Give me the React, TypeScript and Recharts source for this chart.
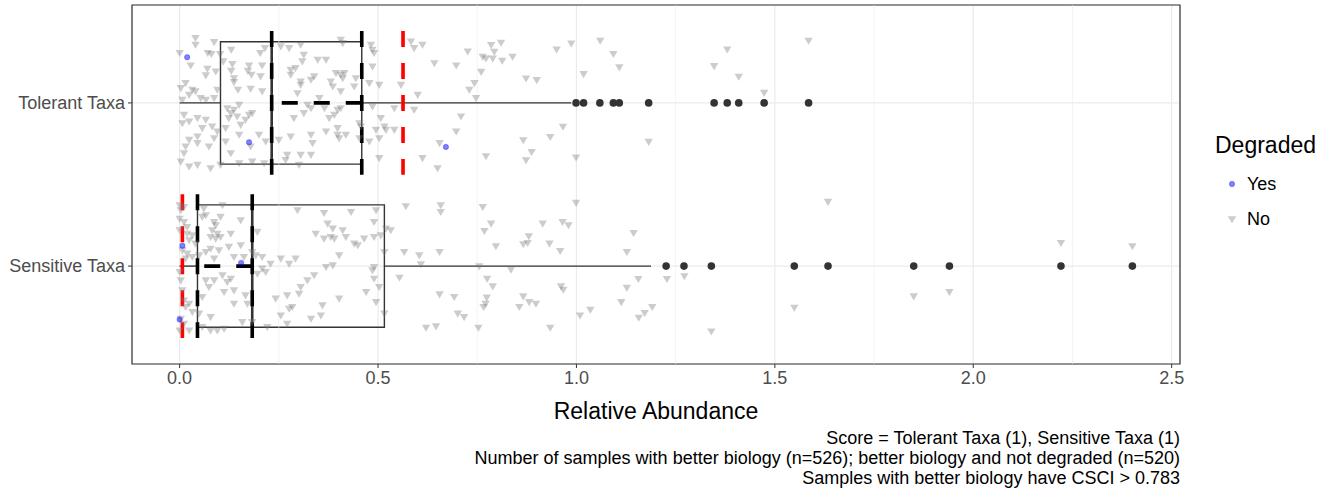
import React from 'react';
import { ScatterChart, Scatter, XAxis, YAxis, CartesianGrid, ReferenceLine, ReferenceArea } from 'recharts';

const categories = ['Sensitive Taxa', 'Tolerant Taxa'];
const xTicks = [0, 0.5, 1, 1.5, 2, 2.5];
const xMinor = [0.25, 0.75, 1.25, 1.75, 2.25];
const xDomain = [-0.12, 2.521];
const yDomain = [0.4, 2.6];

// [lower whisker, q1, median, q3, upper whisker]
const sensitiveBox = [0, 0.045, 0.183, 0.516, 1.188];
const tolerantBox = [0, 0.103, 0.232, 0.459, 0.987];
const sensitiveOutliers = [1.226, 1.271, 1.34, 1.549, 1.634, 1.85, 1.94, 2.221, 2.401];
const tolerantOutliers = [0.999, 1.018, 1.059, 1.093, 1.108, 1.182, 1.347, 1.38, 1.409, 1.473, 1.585];

// dashed black markers (pairs) and red thresholds
const sensitiveMarks = [0.045, 0.183];
const tolerantMarks = [0.232, 0.459];
const sensitiveThreshold = 0.007;
const tolerantThreshold = 0.563;

// [value, vertical jitter]
const sensitiveYes = [[0.007, 0.125], [0.0, -0.327], [0.155, 0.02]];
const tolerantYes = [[0.019, 0.28], [0.175, -0.241], [0.671, -0.27]];

const tolerantNo = [
  [0.04, 0.399], [0.04, 0.358], [0.087, 0.374], [0.0, 0.307], [0.028, 0.231], [0.071, 0.307], [0.08, 0.301], [0.102, 0.301],
  [0.13, 0.327], [0.11, 0.256], [0.133, 0.239], [0.07, 0.211], [0.066, 0.17], [0.091, 0.194], [0.13, 0.198], [0.137, 0.153],
  [0.137, 0.129], [0.147, 0.082], [0.175, 0.231], [0.172, 0.198], [0.181, 0.174], [0.179, 0.088], [0.208, 0.231], [0.203, 0.307],
  [0.215, 0.337], [0.208, 0.072], [0.204, 0.164], [0.003, 0.092], [0.015, 0.123], [0.032, 0.082], [0.04, 0.072], [0.024, 0.051],
  [0.053, 0.031], [0.066, 0.02], [0.087, 0.031], [0.095, 0.082], [0.007, 0.02], [0.011, -0.072], [0.007, -0.123], [0.024, -0.112],
  [0.045, -0.092], [0.066, -0.102], [0.082, -0.143], [0.057, -0.153], [0.045, -0.204], [0.045, -0.245], [0.024, -0.225], [0.015, -0.266],
  [0.011, -0.307], [0.003, -0.358], [0.024, -0.389], [0.045, -0.378], [0.078, -0.399], [0.103, -0.378], [0.074, -0.266], [0.087, -0.215],
  [0.095, -0.174], [0.12, -0.031], [0.129, -0.061], [0.124, -0.092], [0.137, -0.041], [0.15, -0.01], [0.145, -0.082], [0.154, -0.133],
  [0.116, -0.153], [0.129, -0.307], [0.116, -0.235], [0.15, -0.194], [0.175, -0.072], [0.183, -0.061], [0.166, -0.102], [0.2, -0.194],
  [0.179, -0.266], [0.15, -0.368], [0.183, -0.358], [0.213, -0.368], [0.217, -0.235], [0.25, -0.225], [0.28, -0.204], [0.271, -0.317],
  [0.267, -0.348], [0.305, -0.317], [0.301, -0.378], [0.288, -0.092], [0.313, -0.061], [0.322, -0.01], [0.297, 0.061], [0.305, 0.112],
  [0.28, 0.204], [0.292, 0.215], [0.309, 0.256], [0.276, 0.337], [0.305, 0.358], [0.255, 0.348], [0.305, 0.133], [0.313, 0.297],
  [0.28, 0.174],
  [0.406, 0.389], [0.411, 0.368], [0.482, 0.358], [0.486, 0.327], [0.49, 0.307], [0.583, 0.378], [0.591, 0.337], [0.612, 0.358],
  [0.726, 0.317], [0.348, 0.266], [0.369, 0.266], [0.486, 0.225], [0.642, 0.245], [0.697, 0.231], [0.331, 0.143], [0.339, 0.164],
  [0.381, 0.133], [0.394, 0.184], [0.406, 0.174], [0.411, 0.153], [0.415, 0.184], [0.444, 0.153], [0.386, 0.102], [0.406, 0.072],
  [0.44, 0.102], [0.478, 0.123], [0.503, 0.112], [0.558, 0.112], [0.6, 0.051], [0.73, 0.082], [0.747, 0.031], [0.743, 0.123],
  [0.331, -0.031], [0.352, 0.031], [0.365, -0.031], [0.398, -0.041], [0.406, -0.031], [0.486, -0.02], [0.541, -0.031], [0.591, -0.041],
  [0.507, -0.092], [0.709, -0.082], [0.377, -0.092], [0.39, -0.072], [0.369, -0.174], [0.398, -0.153], [0.398, -0.194], [0.402, -0.215],
  [0.419, -0.194], [0.331, -0.194], [0.335, -0.245], [0.453, -0.123], [0.457, -0.143], [0.453, -0.215], [0.478, -0.235], [0.495, -0.164],
  [0.516, -0.143], [0.52, -0.164], [0.541, -0.164], [0.503, -0.215], [0.697, -0.174], [0.655, -0.245], [0.331, -0.317], [0.503, -0.337],
  [0.612, -0.337], [0.65, -0.399],
  [0.764, 0.284], [0.772, 0.274], [0.785, 0.356], [0.793, 0.315], [0.789, 0.274], [0.81, 0.37], [0.813, 0.26], [0.839, 0.284],
  [0.76, 0.192], [0.873, 0.151], [0.9, 0.141], [0.95, 0.329], [0.987, 0.366], [1.06, 0.382], [1.093, 0.301], [1.108, 0.219],
  [1.018, 0.178], [1.347, 0.227], [1.38, 0.329], [1.409, 0.162], [1.473, 0.063], [1.585, 0.382], [0.866, -0.227], [0.887, -0.299],
  [0.873, -0.35], [0.772, -0.325], [0.934, -0.207], [0.966, -0.145], [0.999, -0.333], [1.182, -0.237],
];

const sensitiveNo = [
  [0.0, 0.374], [0.003, 0.344], [0.011, 0.364], [0.0, 0.292], [0.011, 0.272], [0.019, 0.241], [0.0, 0.221], [0.019, 0.2],
  [0.032, 0.19], [0.024, 0.16], [0.04, 0.139], [0.007, 0.098], [0.019, 0.078], [0.032, 0.057], [0.015, 0.047], [0.049, 0.067],
  [0.061, 0.354], [0.057, 0.303], [0.066, 0.313], [0.108, 0.374], [0.103, 0.303], [0.087, 0.272], [0.091, 0.252], [0.082, 0.221],
  [0.095, 0.2], [0.078, 0.18], [0.091, 0.17], [0.103, 0.18], [0.129, 0.2], [0.078, 0.108], [0.099, 0.098], [0.124, 0.119],
  [0.154, 0.129], [0.066, 0.088], [0.087, 0.047], [0.137, 0.057], [0.162, 0.057], [0.192, 0.067], [0.196, 0.211], [0.154, 0.282],
  [0.183, 0.088], [0.208, 0.057], [0.208, -0.014], [0.217, -0.035], [0.196, -0.045], [0.229, 0.016], [0.255, 0.047], [0.276, 0.016],
  [0.292, 0.047], [0.297, 0.344], [0.0, -0.035], [0.003, -0.086], [0.007, -0.147], [0.011, -0.209], [0.024, -0.229], [0.015, -0.249],
  [0.032, -0.28], [0.003, -0.321], [0.011, -0.352], [0.024, -0.393], [0.0, -0.393], [0.049, -0.29], [0.057, -0.188], [0.074, -0.127],
  [0.066, -0.086], [0.087, -0.086], [0.108, -0.055], [0.129, -0.076], [0.12, -0.096], [0.137, -0.147], [0.112, -0.157], [0.166, -0.178],
  [0.171, -0.229], [0.137, -0.229], [0.158, -0.342], [0.183, -0.342], [0.112, -0.382], [0.095, -0.393], [0.078, -0.393], [0.057, -0.372],
  [0.078, -0.311], [0.221, -0.372], [0.242, -0.198], [0.255, -0.301], [0.276, -0.26], [0.284, -0.249], [0.271, -0.352], [0.305, -0.127],
  [0.301, -0.168], [0.322, -0.086], [0.271, -0.178],
  [0.364, 0.327], [0.432, 0.333], [0.495, 0.344], [0.49, 0.272], [0.373, 0.262], [0.386, 0.231], [0.411, 0.221], [0.343, 0.2],
  [0.364, 0.17], [0.381, 0.18], [0.39, 0.17], [0.419, 0.18], [0.44, 0.139], [0.449, 0.129], [0.465, 0.17], [0.49, 0.18],
  [0.507, 0.19], [0.52, 0.231], [0.532, 0.221], [0.402, 0.067], [0.369, -0.004], [0.386, 0.006], [0.49, -0.004], [0.486, -0.025],
  [0.339, -0.055], [0.49, -0.076], [0.503, -0.127], [0.47, -0.157], [0.402, -0.198], [0.495, -0.219], [0.36, -0.239], [0.356, -0.301],
  [0.331, -0.321], [0.516, -0.29], [0.57, 0.368], [0.658, 0.374], [0.658, 0.333], [0.516, 0.088], [0.566, 0.088], [0.604, 0.067],
  [0.655, 0.088], [0.608, 0.012], [0.554, -0.07], [0.655, -0.172], [0.692, -0.188], [0.701, -0.29], [0.717, -0.311], [0.621, -0.376],
  [0.646, -0.368],
  [0.764, 0.364], [0.785, 0.262], [0.768, 0.217], [0.797, 0.123], [0.755, 0.0], [0.835, -0.02], [0.775, -0.076], [0.789, -0.123],
  [0.774, -0.192], [0.771, -0.229], [0.766, -0.249], [0.866, -0.184], [0.881, -0.219], [0.898, -0.229], [0.856, -0.249], [0.915, 0.262],
  [0.965, 0.272], [0.98, 0.252], [0.932, 0.139], [0.959, 0.094], [0.866, 0.135], [0.88, 0.184], [0.877, 0.143], [0.999, 0.389],
  [0.753, -0.376], [0.934, -0.376], [0.961, -0.123], [0.967, -0.143], [1.009, -0.301], [1.035, -0.266], [1.113, -0.219], [1.127, -0.131],
  [1.156, -0.078], [1.144, 0.204], [1.127, 0.088], [1.191, -0.249], [1.172, -0.286], [1.157, -0.315], [1.228, -0.078], [1.272, -0.061],
  [1.34, -0.399], [1.549, -0.254], [1.634, 0.395], [1.85, -0.184], [1.94, -0.157], [2.221, 0.143], [2.401, 0.123],
];

const captionLines = [
  'Score = Tolerant Taxa (1), Sensitive Taxa (1)',
  'Number of samples with better biology (n=526); better biology and not degraded (n=520)',
  'Samples with better biology have CSCI > 0.783',
];

const FONT = '"Liberation Sans", Arial, sans-serif';
const HALF_BOX = 0.375;
const MARK_HALF = 0.44;

const toPoints = (rows: number[][], level: number) => rows.map(([x, j]) => ({ x, y: level + j }));

const Triangle = (props: any) => {
  const { cx, cy } = props;
  return (
    <path
      d={`M${cx - 4.2},${cy - 2.8}L${cx + 4.2},${cy - 2.8}L${cx},${cy + 4.3}Z`}
      fill="#7a7a7a"
      fillOpacity={0.38}
    />
  );
};

const BlueDot = (props: any) => (
  <circle cx={props.cx} cy={props.cy} r={2.7} fill="#0000ff" fillOpacity={0.5} stroke="#0000ff" strokeOpacity={0.35} strokeWidth={0.8} />
);

const OutlierDot = (props: any) => <circle cx={props.cx} cy={props.cy} r={3.8} fill="#333333" />;

function boxParts(stats: number[], level: number, key: string) {
  const [lo, q1, med, q3, hi] = stats;
  return [
    <ReferenceLine key={`${key}-wl`} segment={[{ x: lo, y: level }, { x: q1, y: level }]} stroke="#333" strokeWidth={1.4} />,
    <ReferenceLine key={`${key}-wh`} segment={[{ x: q3, y: level }, { x: hi, y: level }]} stroke="#333" strokeWidth={1.4} />,
    <ReferenceArea key={`${key}-box`} x1={q1} x2={q3} y1={level - HALF_BOX} y2={level + HALF_BOX} fill="none" fillOpacity={0} stroke="#333" strokeWidth={1.4} />,
    <ReferenceLine key={`${key}-med`} segment={[{ x: med, y: level - HALF_BOX }, { x: med, y: level + HALF_BOX }]} stroke="#333" strokeWidth={2.6} />,
  ];
}

function markParts(marks: number[], threshold: number, level: number, key: string) {
  const [a, b] = marks;
  const dash = '16 16';
  return [
    <ReferenceLine key={`${key}-ma`} segment={[{ x: a, y: level + MARK_HALF }, { x: a, y: level - MARK_HALF }]} stroke="#000" strokeWidth={3.6} strokeDasharray={dash} />,
    <ReferenceLine key={`${key}-mb`} segment={[{ x: b, y: level + MARK_HALF }, { x: b, y: level - MARK_HALF }]} stroke="#000" strokeWidth={3.6} strokeDasharray={dash} />,
    <ReferenceLine key={`${key}-mh`} segment={[{ x: b, y: level }, { x: a, y: level }]} stroke="#000" strokeWidth={3.6} strokeDasharray={dash} />,
    <ReferenceLine key={`${key}-red`} segment={[{ x: threshold, y: level + MARK_HALF }, { x: threshold, y: level - MARK_HALF }]} stroke="#ff0000" strokeWidth={3.6} strokeDasharray={dash} />,
  ];
}

export default function App() {
  const sensNo = toPoints(sensitiveNo, 1);
  const tolNo = toPoints(tolerantNo, 2);
  const sensYes = toPoints(sensitiveYes, 1);
  const tolYes = toPoints(tolerantYes, 2);
  const outliers = [
    ...sensitiveOutliers.map((x) => ({ x, y: 1 })),
    ...tolerantOutliers.map((x) => ({ x, y: 2 })),
  ];

  return (
    <div style={{ position: 'absolute', left: 0, top: 0, width: 1328, height: 491, background: '#fff', fontFamily: FONT }}>
      <ScatterChart width={1328} height={491} margin={{ top: 5, right: 148, bottom: 67, left: 0 }} style={{ fontFamily: FONT }}>
        <CartesianGrid stroke="#ebebeb" strokeWidth={1.2} />
        {xMinor.map((v) => (
          <ReferenceLine key={`minor-${v}`} x={v} stroke="#ebebeb" strokeWidth={0.6} />
        ))}
        <XAxis
          type="number"
          dataKey="x"
          domain={xDomain}
          allowDataOverflow
          ticks={xTicks}
          tickFormatter={(v: number) => v.toFixed(1)}
          axisLine={false}
          tickLine={{ stroke: '#333' }}
          tickSize={4}
          tickMargin={3}
          height={60}
          tick={{ fill: '#4d4d4d', fontSize: 18 }}
          label={{ value: 'Relative Abundance', position: 'insideBottom', offset: 5, fill: '#000', fontSize: 23 }}
        />
        <YAxis
          type="number"
          dataKey="y"
          domain={yDomain}
          allowDataOverflow
          ticks={[1, 2]}
          tickFormatter={(v: number) => categories[v - 1]}
          axisLine={false}
          tickLine={{ stroke: '#333' }}
          tickSize={4}
          tickMargin={3}
          width={132}
          tick={{ fill: '#4d4d4d', fontSize: 18 }}
        />
        <ReferenceArea x1={xDomain[0]} x2={xDomain[1]} y1={yDomain[0]} y2={yDomain[1]} fill="none" fillOpacity={0} stroke="#333" strokeWidth={1.2} />
        {boxParts(sensitiveBox, 1, 'sens')}
        {boxParts(tolerantBox, 2, 'tol')}
        <Scatter data={outliers} shape={OutlierDot} isAnimationActive={false} />
        <Scatter data={sensNo} shape={Triangle} isAnimationActive={false} />
        <Scatter data={tolNo} shape={Triangle} isAnimationActive={false} />
        <Scatter data={sensYes} shape={BlueDot} isAnimationActive={false} />
        <Scatter data={tolYes} shape={BlueDot} isAnimationActive={false} />
        {markParts(sensitiveMarks, sensitiveThreshold, 1, 'sens')}
        {markParts(tolerantMarks, tolerantThreshold, 2, 'tol')}
      </ScatterChart>

      <div style={{ position: 'absolute', left: 1215, top: 131, color: '#000' }}>
        <div style={{ fontSize: 23, lineHeight: '28px' }}>Degraded</div>
        <div style={{ position: 'relative', height: 35, marginTop: 15 }}>
          <svg width={20} height={20} style={{ position: 'absolute', left: 7, top: 0 }}>
            <circle cx={10} cy={10} r={2.7} fill="#0000ff" fillOpacity={0.5} stroke="#0000ff" strokeOpacity={0.35} strokeWidth={0.8} />
          </svg>
          <span style={{ position: 'absolute', left: 32, top: 0, fontSize: 18, lineHeight: '20px' }}>Yes</span>
        </div>
        <div style={{ position: 'relative', height: 35 }}>
          <svg width={20} height={20} style={{ position: 'absolute', left: 7, top: 0 }}>
            <path d="M5.8,7.2L14.2,7.2L10,14.3Z" fill="#7a7a7a" fillOpacity={0.38} />
          </svg>
          <span style={{ position: 'absolute', left: 32, top: 0, fontSize: 18, lineHeight: '20px' }}>No</span>
        </div>
      </div>

      <div style={{ position: 'absolute', right: 148, top: 428, textAlign: 'right', fontSize: 18, lineHeight: '20px', color: '#000' }}>
        {captionLines.map((l) => (
          <div key={l} style={{ whiteSpace: 'nowrap' }}>{l}</div>
        ))}
      </div>
    </div>
  );
}
